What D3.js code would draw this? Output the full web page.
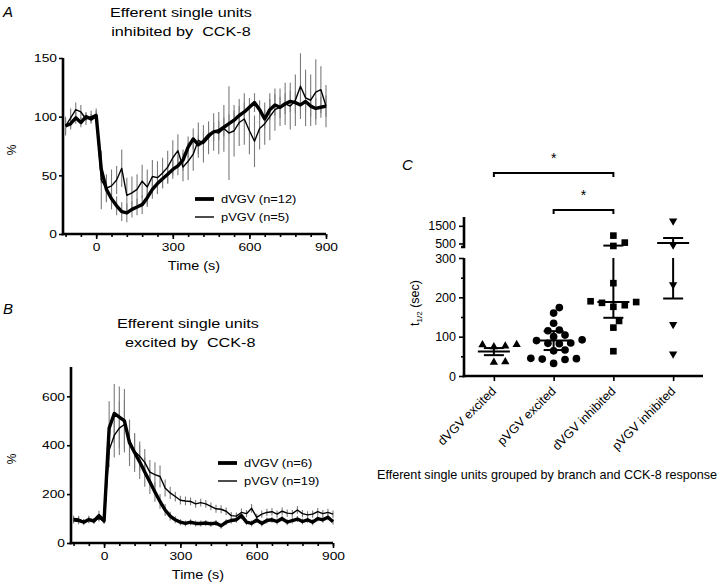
<!DOCTYPE html>
<html>
<head>
<meta charset="utf-8">
<script src="https://cdn.jsdelivr.net/npm/d3@7"></script>
<style>
  body { margin: 0; background: #fff; }
  svg { display: block; font-family: "Liberation Sans", Arial, Helvetica, sans-serif; }
  text { white-space: pre; }
</style>
</head>
<body>
<svg id="fig" width="720" height="584"></svg>
<script>
// Sample times (s) shared by panels A and B.
const TIME = [-120, -100, -80, -60, -40, -20, 0, 20, 40, 60, 80, 100, 120, 140, 160, 180,
  200, 220, 240, 260, 280, 300, 320, 340, 360, 380, 400, 420, 440, 460, 480, 500, 520,
  540, 560, 580, 600, 620, 640, 660, 680, 700, 720, 740, 760, 780, 800, 820, 840, 860,
  880, 900];

// Panel A: units inhibited by CCK-8 (% of baseline)
const A_DVGV = [92, 94, 99, 95, 100, 98, 101, 55, 38, 30, 24, 19, 18, 21, 23, 25, 31, 38,
  43, 47, 51, 55, 58, 63, 74, 81, 76, 79, 84, 87, 88, 91, 94, 97, 101, 104, 108, 112, 106,
  98, 106, 110, 108, 111, 113, 112, 110, 113, 109, 107, 108, 109];
const A_DVGV_ERR = [6, 5, 5, 4, 4, 4, 4, 12, 10, 9, 8, 8, 8, 7, 7, 8, 8, 8, 8, 8, 8, 8, 8,
  9, 9, 9, 8, 8, 8, 8, 8, 8, 8, 8, 8, 8, 8, 8, 8, 8, 9, 9, 9, 9, 9, 9, 9, 9, 9, 9, 9, 9];
const A_PVGV = [92, 99, 106, 104, 98, 100, 102, 46, 39, 41, 46, 56, 33, 35, 38, 45, 40, 49,
  48, 52, 57, 65, 71, 57, 62, 68, 80, 77, 82, 87, 86, 90, 86, 88, 95, 98, 88, 79, 90, 94,
  100, 106, 108, 111, 109, 114, 126, 116, 114, 121, 123, 109];
const A_PVGV_ERR = [8, 8, 6, 6, 5, 5, 5, 25, 12, 14, 12, 16, 15, 14, 13, 14, 15, 14, 14, 13,
  14, 15, 14, 12, 16, 14, 15, 16, 14, 16, 18, 20, 40, 22, 20, 22, 20, 22, 18, 18, 20, 18,
  16, 18, 20, 22, 28, 24, 22, 28, 20, 18];

// Panel B: units excited by CCK-8 (% of baseline)
const B_DVGV = [95, 92, 85, 96, 90, 112, 90, 470, 530, 515, 500, 410, 370, 332, 290, 250,
  209, 170, 135, 110, 95, 85, 80, 85, 80, 80, 82, 78, 82, 70, 85, 92, 95, 112, 85, 80, 94,
  80, 92, 95, 88, 100, 85, 92, 98, 88, 95, 85, 100, 95, 105, 87];
const B_DVGV_ERR = [15, 15, 12, 15, 12, 20, 12, 110, 120, 125, 130, 95, 80, 70, 60, 50,
  40, 30, 25, 18, 14, 12, 12, 12, 12, 12, 12, 12, 12, 12, 12, 12, 12, 15, 12, 12, 12, 12,
  12, 12, 12, 12, 12, 12, 12, 12, 12, 12, 12, 12, 12, 12];
const B_PVGV = [100, 98, 88, 95, 92, 100, 92, 380, 440, 470, 485, 420, 375, 355, 330, 290,
  280, 272, 225, 205, 190, 175, 172, 170, 160, 165, 160, 150, 140, 138, 130, 112, 110, 125,
  120, 142, 105, 118, 125, 128, 118, 130, 122, 120, 135, 120, 115, 118, 128, 120, 125, 118];
const B_PVGV_ERR = [12, 12, 10, 12, 10, 12, 10, 70, 90, 110, 100, 80, 70, 60, 55, 50, 50,
  45, 35, 25, 20, 18, 18, 16, 16, 16, 16, 16, 16, 16, 15, 15, 15, 16, 15, 18, 15, 15, 15,
  15, 15, 15, 15, 15, 15, 15, 15, 15, 15, 15, 15, 15];

// Panel C: t1/2 (sec) per unit, grouped by branch and response
const C_GROUPS = ['dVGV excited', 'pVGV excited', 'dVGV inhibited', 'pVGV inhibited'];
const C_VALUES = [
  [80, 79, 76, 74, 36, 35],
  [174, 160, 134, 117, 115, 104, 100, 92, 90, 84, 83, 82, 66, 64, 45, 44, 43, 42, 32],
  [945, 550, 360, 236, 190, 188, 186, 180, 176, 140, 123, 63],
  [1780, 420, 232, 131, 56],
];
const C_MEAN = [62, 90, 188, 530];
const C_ERR_LO = [53, 66, 148, 197];
const C_ERR_HI = [71, 114, 380, 810];
const C_SIG = [[0, 2], [1, 2]];

const svg = d3.select('#fig');
const SX = 1.2;   // panels A/B text is a little wide in the original

function stretch(sel, sx) {
  sel.attr('transform', `scale(${sx},1)`);
}

function label(g, txt, x, y, size, opts = {}) {
  const t = g.append('text')
    .attr('transform', `translate(${x},${y})${opts.rotate ? ` rotate(${opts.rotate})` : ''} scale(${opts.sx || 1},1)`)
    .attr('text-anchor', opts.anchor || 'middle')
    .attr('font-size', size)
    .attr('fill', '#000')
    .text(txt);
  if (opts.italic) t.attr('font-style', 'italic');
  return t;
}

function timePanel(cfg) {
  const g = svg.append('g');
  const x = d3.scaleLinear().domain([-130, 900]).range([cfg.left, cfg.right]);
  const y = d3.scaleLinear().domain([0, cfg.yMax]).range([cfg.bottom, cfg.top]);

  // error bars
  const bars = g.append('g').attr('stroke', '#7a7a7a').attr('stroke-width', 1.1);
  [[cfg.thin, cfg.thinErr], [cfg.thick, cfg.thickErr]].forEach(([vals, errs]) => {
    bars.selectAll(null).data(TIME).enter().append('line')
      .attr('x1', (d) => x(d)).attr('x2', (d) => x(d))
      .attr('y1', (d, i) => y(vals[i] - errs[i]))
      .attr('y2', (d, i) => y(vals[i] + errs[i]));
  });

  const line = (vals) => d3.line().x((d) => x(d)).y((d, i) => y(vals[i]))(TIME);
  g.append('path').attr('d', line(cfg.thin))
    .attr('fill', 'none').attr('stroke', '#000').attr('stroke-width', 1.4)
    .attr('stroke-linejoin', 'round');
  g.append('path').attr('d', line(cfg.thick))
    .attr('fill', 'none').attr('stroke', '#000').attr('stroke-width', 3.4)
    .attr('stroke-linejoin', 'round');

  // axes
  const yAxis = g.append('g').attr('transform', `translate(${cfg.left},0)`)
    .call(d3.axisLeft(y).tickValues(cfg.yTicks).tickSize(4).tickSizeOuter(0).tickPadding(1));
  const xMinor = g.append('g').attr('transform', `translate(0,${cfg.bottom})`)
    .call(d3.axisBottom(x).tickValues(d3.range(-120, 901, 60)).tickSize(3).tickFormat('').tickSizeOuter(0));
  const xAxis = g.append('g').attr('transform', `translate(0,${cfg.bottom})`)
    .call(d3.axisBottom(x).tickValues([0, 300, 600, 900]).tickSize(5).tickSizeOuter(0).tickPadding(4));
  [yAxis, xMinor, xAxis].forEach((a) => {
    a.select('.domain').attr('stroke-width', 2.6);
    a.selectAll('.tick line').attr('stroke-width', 1.6);
    a.selectAll('text').attr('font-size', 11.5).attr('font-family', null).call(stretch, SX);
  });
  yAxis.select('.domain').attr('d', `M0,${cfg.bottom + 1.3}V${cfg.top}`);
  xAxis.select('.domain').attr('d', `M${cfg.left - 1.3},0H${cfg.right}`);
  xMinor.select('.domain').remove();

  label(g, 'Time (s)', cfg.timeX, cfg.bottom + 36, 12, { sx: SX });
  label(g, '%', 16, (cfg.top + cfg.bottom) / 2 + 4, 12, { rotate: -90 });

  // titles and panel letter
  label(g, 'Efferent single units', cfg.titleX, cfg.titleY, 13.5, { sx: SX });
  label(g, cfg.title2, cfg.titleX, cfg.titleY + 19, 13.5, { sx: SX });
  label(g, cfg.letter, 3, cfg.letterY, 15, { anchor: 'start', italic: true });

  // legend
  const lg = g.append('g');
  [[cfg.legend[0], 3.8], [cfg.legend[1], 1.4]].forEach(([txt, w], i) => {
    const ly = cfg.legendY + i * 18;
    lg.append('line').attr('x1', cfg.legendX).attr('x2', cfg.legendX + 19)
      .attr('y1', ly).attr('y2', ly).attr('stroke', '#000').attr('stroke-width', w);
    label(lg, txt, cfg.legendX + 26, ly + 4, 11.5, { anchor: 'start', sx: 1.12 });
  });
}

timePanel({
  left: 63, right: 326, top: 58, bottom: 234, yMax: 150, yTicks: [0, 50, 100, 150],
  thick: A_DVGV, thickErr: A_DVGV_ERR, thin: A_PVGV, thinErr: A_PVGV_ERR,
  title2: 'inhibited by  CCK-8', titleX: 181, titleY: 17, letter: 'A', letterY: 17,
  legend: ['dVGV (n=12)', 'pVGV (n=5)'], legendX: 195, legendY: 199, timeX: 194,
});

timePanel({
  left: 71, right: 333, top: 367, bottom: 543, yMax: 720, yTicks: [0, 200, 400, 600],
  thick: B_DVGV, thickErr: B_DVGV_ERR, thin: B_PVGV, thinErr: B_PVGV_ERR,
  title2: ' excited by  CCK-8', titleX: 188, titleY: 328, letter: 'B', letterY: 314,
  legend: ['dVGV (n=6)', 'pVGV (n=19)'], legendX: 218, legendY: 463, timeX: 198,
});

// ---- Panel C: scatter with broken y axis ----
(function scatterPanel() {
  const g = svg.append('g');
  const left = 464, right = 703, bottom = 376;
  const x = d3.scalePoint().domain(C_GROUPS).range([left, right]).padding(0.5);
  const yLow = d3.scaleLinear().domain([0, 300]).range([bottom, 258]);
  const yHigh = d3.scaleLinear().domain([300, 2000]).range([247, 217]);
  const yC = (v) => (v <= 300 ? yLow(v) : yHigh(v));

  const lowAxis = g.append('g').attr('transform', `translate(${left},0)`)
    .call(d3.axisLeft(yLow).tickValues([0, 100, 200, 300]).tickSize(5).tickSizeOuter(0).tickPadding(3));
  const lowMinor = g.append('g').attr('transform', `translate(${left},0)`)
    .call(d3.axisLeft(yLow).tickValues([50, 150, 250]).tickSize(3).tickFormat('').tickSizeOuter(0));
  const highAxis = g.append('g').attr('transform', `translate(${left},0)`)
    .call(d3.axisLeft(yHigh).tickValues([500, 1500]).tickSize(5).tickSizeOuter(3).tickPadding(3)
      .tickFormat(d3.format('d')));
  const xAxis = g.append('g').attr('transform', `translate(0,${bottom})`)
    .call(d3.axisBottom(x).tickSize(5).tickSizeOuter(0).tickFormat(''));
  [lowAxis, lowMinor, highAxis, xAxis].forEach((a) => {
    a.select('.domain').attr('stroke-width', 2.6);
    a.selectAll('.tick line').attr('stroke-width', 1.6);
    a.selectAll('text').attr('font-size', 12.5).attr('font-family', null);
  });
  lowMinor.select('.domain').remove();
  lowAxis.select('.domain').attr('d', `M0,${bottom + 1.3}V258`);
  highAxis.select('.domain').attr('d', 'M-3,247H0V217');
  xAxis.select('.domain').attr('d', `M${left - 1.3},0H${right}`);

  // category labels
  C_GROUPS.forEach((c) => {
    label(g, c, x(c) + 3, bottom + 16, 12.5, { anchor: 'end', rotate: -45 });
  });

  // points
  const shapes = [
    d3.symbol().type(d3.symbolTriangle).size(30),
    d3.symbol().type(d3.symbolCircle).size(46),
    d3.symbol().type(d3.symbolSquare).size(44),
    d3.symbol().type(d3.symbolTriangle).size(30),
  ];
  const D = 7.6;
  C_VALUES.forEach((vals, gi) => {
    const cx = x(C_GROUPS[gi]);
    const placed = [];
    vals.slice().sort((a, b) => a - b).forEach((v) => {
      const py = yC(v);
      let k = 0;
      let off = 0;
      while (placed.some((p) => Math.hypot(p.x - (cx + off), p.y - py) < D)) {
        k++;
        off = (k % 2 ? 1 : -1) * Math.ceil(k / 2) * D * 0.75;
      }
      placed.push({ x: cx + off, y: py });
    });
    g.append('g').selectAll('path').data(placed).enter().append('path')
      .attr('d', shapes[gi])
      .attr('transform', (d) => `translate(${d.x},${d.y})${gi === 3 ? ' rotate(180)' : ''}`)
      .attr('fill', '#000');

    // mean and error bars
    const eg = g.append('g').attr('stroke', '#000').attr('stroke-width', 2);
    const lo = C_ERR_LO[gi], hi = C_ERR_HI[gi];
    if (hi <= 300) {
      eg.append('line').attr('x1', cx).attr('x2', cx).attr('y1', yLow(lo)).attr('y2', yLow(hi));
    } else {
      eg.append('line').attr('x1', cx).attr('x2', cx).attr('y1', yLow(lo)).attr('y2', yLow(300));
      eg.append('line').attr('x1', cx).attr('x2', cx).attr('y1', yHigh(300)).attr('y2', yHigh(hi));
    }
    eg.append('line').attr('x1', cx - 16).attr('x2', cx + 16)
      .attr('y1', yC(C_MEAN[gi])).attr('y2', yC(C_MEAN[gi]));
    [lo, hi].forEach((v) => {
      eg.append('line').attr('x1', cx - 10).attr('x2', cx + 10).attr('y1', yC(v)).attr('y2', yC(v));
    });
  });

  // significance brackets
  const brY = [173, 210];
  C_SIG.forEach(([a, b], i) => {
    const x0 = x(C_GROUPS[a]), x1 = x(C_GROUPS[b]);
    g.append('path').attr('d', `M${x0},${brY[i] + 4}V${brY[i]}H${x1}V${brY[i] + 4}`)
      .attr('fill', 'none').attr('stroke', '#000').attr('stroke-width', 2);
    label(g, '*', (x0 + x1) / 2, brY[i] - 10, 14);
  });

  // axis titles
  const yl = g.append('text')
    .attr('transform', 'translate(419,303) rotate(-90)')
    .attr('text-anchor', 'middle').attr('font-size', 12.5);
  yl.append('tspan').text('t');
  yl.append('tspan').attr('font-size', 8).attr('dy', 3).text('1/2');
  yl.append('tspan').attr('dy', -3).text(' (sec)');

  label(g, 'C', 402, 170, 15, { anchor: 'start', italic: true });
  label(g, 'Efferent single units grouped by branch and CCK-8 response', 547, 479, 12.6);
})();
</script>
</body>
</html>
